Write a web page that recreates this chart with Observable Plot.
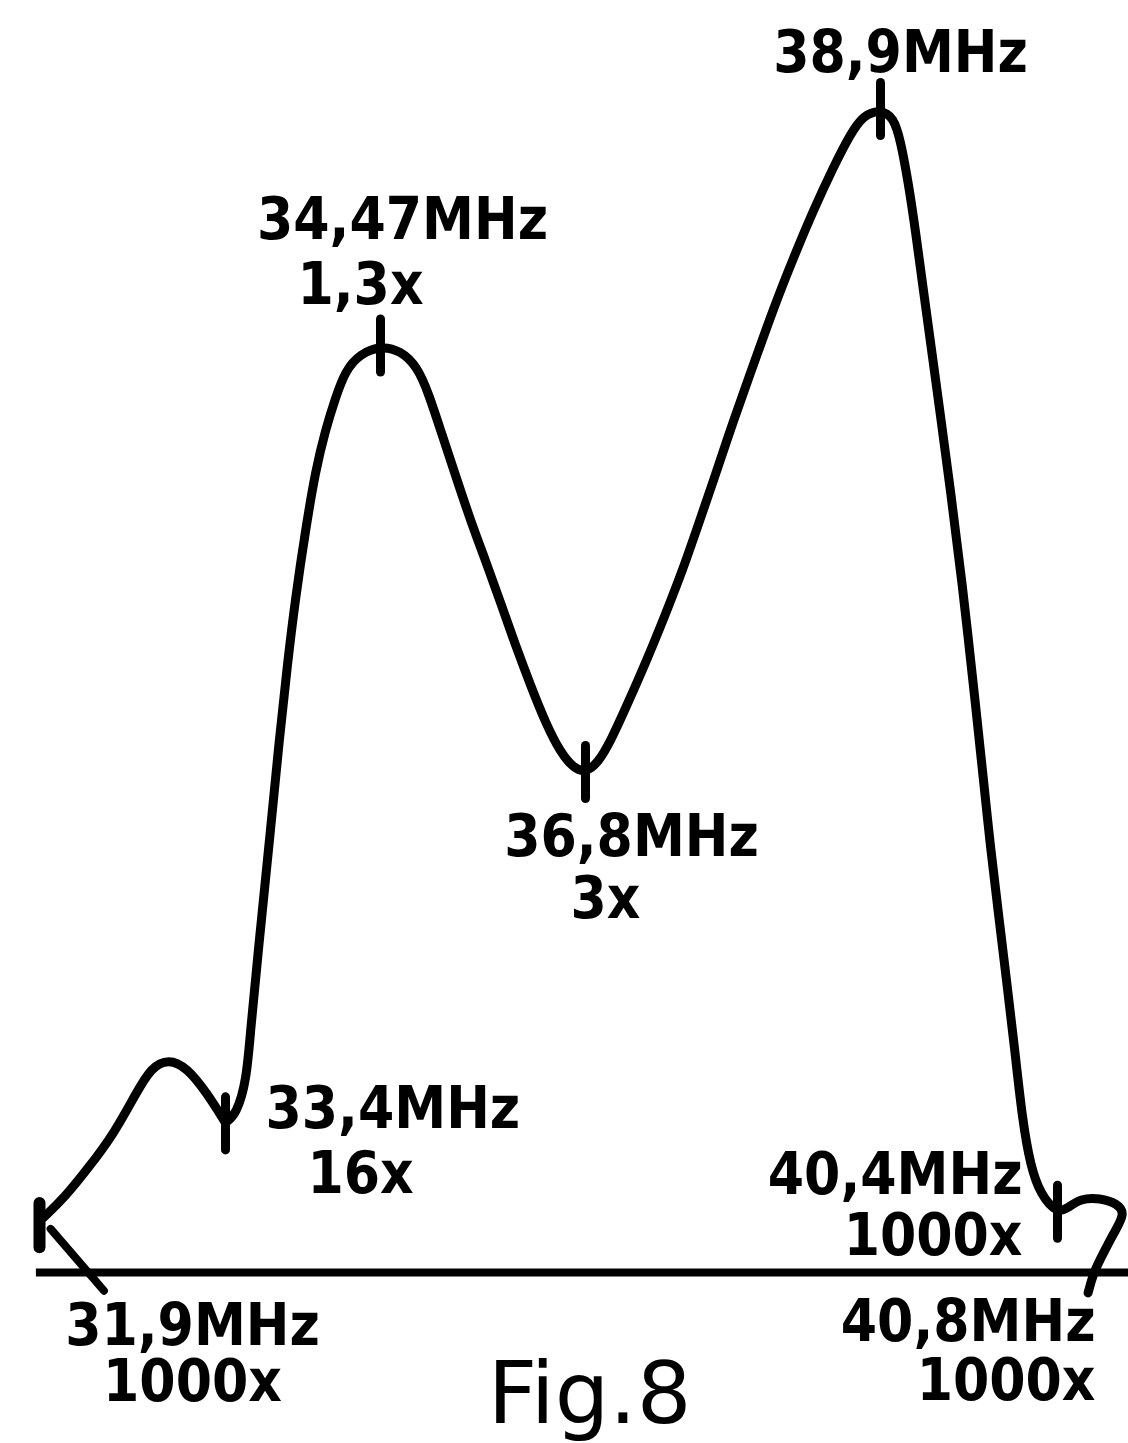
<!DOCTYPE html>
<html><head><meta charset="utf-8">
<script src="https://cdn.jsdelivr.net/npm/d3@7"></script>
<script src="https://cdn.jsdelivr.net/npm/@observablehq/plot@0.6"></script>
<style>html,body{margin:0;padding:0;background:#fff} svg{display:block}</style>
</head><body><div id="chart"></div>
<script>
// ---- data (frequency in MHz, relative amplitude) ----
const curveFreq = [31.93, 32.10, 32.30, 32.50, 32.68, 32.80, 32.94, 33.09, 33.25, 33.40,
  33.476, 33.545, 33.573, 33.621, 33.711, 33.766, 33.828, 33.883, 33.952, 34.021, 34.090, 34.159, 34.228, 34.332, 34.47,
  34.697, 34.891, 35.016, 35.152, 35.322, 35.493, 35.663, 35.834, 36.004, 36.175, 36.345, 36.516, 36.664, 36.80,
  36.885, 36.978, 37.099, 37.241, 37.384, 37.491, 37.597, 37.711, 37.854, 37.996, 38.138, 38.281, 38.423, 38.565, 38.686, 38.779, 38.90,
  39.010, 39.070, 39.137, 39.197, 39.264, 39.341, 39.417, 39.493, 39.586, 39.714, 39.773, 39.832, 39.900, 39.968, 40.036, 40.103, 40.171, 40.256, 40.40,
  40.46, 40.535, 40.65, 40.75, 40.80];
const curveAmp = [-0.003, 0.015, 0.043, 0.073, 0.110, 0.133, 0.141, 0.133, 0.110, 0.083,
  0.091, 0.121, 0.167, 0.232, 0.348, 0.423, 0.499, 0.558, 0.619, 0.673, 0.710, 0.739, 0.764, 0.779, 0.786,
  0.782, 0.767, 0.743, 0.710, 0.669, 0.628, 0.592, 0.554, 0.515, 0.479, 0.445, 0.418, 0.404, 0.400,
  0.408, 0.428, 0.462, 0.503, 0.548, 0.583, 0.622, 0.664, 0.719, 0.769, 0.820, 0.866, 0.909, 0.948, 0.978, 0.995, 1.000,
  0.993, 0.972, 0.933, 0.890, 0.836, 0.776, 0.716, 0.655, 0.578, 0.453, 0.393, 0.332, 0.272, 0.212, 0.151, 0.085, 0.044, 0.018, 0.001,
  0.006, 0.0145, 0.015, 0.010, 0.001];
const hookFreq = [40.73, 40.67, 40.61, 40.58];
const hookAmp  = [-0.017, -0.035, -0.053, -0.071];
const leaderFreq = [31.99, 32.42];
const leaderAmp  = [-0.013, -0.069];
const markerFreq = [31.9, 33.4, 34.47, 36.8, 38.9, 40.4, 40.8];
const markerAmp  = [-0.010, 0.082, 0.786, 0.400, 1.000, 0.002, 0.001];
const markerTick = ["bar", "tick", "tick", "tick", "tick", "tick", "none"];
const markerFreqLabel   = ["31,9MHz", "33,4MHz", "34,47MHz", "36,8MHz", "38,9MHz", "40,4MHz", "40,8MHz"];
const markerFactorLabel = ["1000x", "16x", "1,3x", "3x", "", "1000x", "1000x"];
const baselineAmp = -0.0525;
const baselineFrom = 31.875, baselineTo = 40.82;
const figureLabel = "Fig.8";

// ---- label placement (pixel offsets from each marker point) ----
// stacked: both lines in one text element [dx, dy(last baseline), anchor, lineHeight]
// separate: freq line and factor line, each [dx, dy(baseline), anchor]
const labelLayout = [
  {stacked: [153, 175, "middle", 0.95]},
  {freq: [40, 4, "start"], factor: [135, 69, "middle"]},
  {freq: [22, -107, "middle"], factor: [-20, -42, "middle"]},
  {freq: [46, 84, "middle"], factor: [20, 146, "middle"]},
  {freq: [20, -37, "middle"]},
  {stacked: [-35, 43, "end", 1.05]},
  {stacked: [-30, 187, "end", 1.03]}
];

const allPts = curveFreq.map((f, i) => ({f, a: curveAmp[i]}))
  .concat(hookFreq.map((f, i) => ({f, a: hookAmp[i]})));
// the drawn response has a sharp notch at 33.4 MHz: smooth each side separately
const notch = curveFreq.indexOf(33.40);
const curveLeft = allPts.slice(0, notch + 1);
const curveRight = allPts.slice(notch);
const leader = leaderFreq.map((f, i) => ({f, a: leaderAmp[i]}));
const markers = markerFreq.map((f, i) => ({f, a: markerAmp[i], tick: markerTick[i],
  fl: markerFreqLabel[i], kl: markerFactorLabel[i]}));

const font = "'DejaVu Sans Condensed', 'Liberation Sans Narrow', 'DejaVu Sans', sans-serif";
const textStyle = {x: "f", y: "a", lineAnchor: "bottom", fontSize: 58, fontWeight: "bold", fontFamily: font, fill: "black"};
const labelMarks = markers.flatMap((m, i) => {
  const L = labelLayout[i], out = [];
  if (L.stacked) {
    out.push(Plot.text([m], {...textStyle, text: d => d.fl + "\n" + d.kl,
      dx: L.stacked[0], dy: L.stacked[1], textAnchor: L.stacked[2], lineHeight: L.stacked[3]}));
  } else {
    out.push(Plot.text([m], {...textStyle, text: "fl", dx: L.freq[0], dy: L.freq[1], textAnchor: L.freq[2]}));
    if (L.factor) out.push(Plot.text([m], {...textStyle, text: "kl", dx: L.factor[0], dy: L.factor[1], textAnchor: L.factor[2]}));
  }
  return out;
});

const lineStyle = {x: "f", y: "a", curve: "basis", stroke: "black", strokeWidth: 9, strokeLinejoin: "round", strokeLinecap: "round"};
const chart = Plot.plot({
  width: 1128, height: 1443, margin: 0,
  style: {background: "white", fontFamily: font},
  x: {type: "linear", domain: markerFreq, range: [39, 225, 380, 585, 880, 1057, 1125], axis: null},
  y: {domain: [-0.20724, 1.09864], range: [1443, 0], axis: null},
  marks: [
    Plot.ruleY([baselineAmp], {x1: baselineFrom, x2: baselineTo, stroke: "black", strokeWidth: 8}),
    Plot.line(curveLeft, lineStyle),
    Plot.line(curveRight, lineStyle),
    Plot.line(leader, {x: "f", y: "a", stroke: "black", strokeWidth: 8, strokeLinecap: "round"}),
    Plot.ruleX(markers.filter(m => m.tick === "tick"), {x: "f", y1: d => d.a - 0.024, y2: d => d.a + 0.024, stroke: "black", strokeWidth: 9, strokeLinecap: "round"}),
    Plot.ruleX(markers.filter(m => m.tick === "bar"), {x: "f", y1: d => d.a - 0.020, y2: d => d.a + 0.020, stroke: "black", strokeWidth: 12, strokeLinecap: "round"}),
    ...labelMarks,
    Plot.text([figureLabel], {frameAnchor: "bottom", lineAnchor: "bottom", dx: 25, dy: -21, fontSize: 86,
      fontFamily: "'DejaVu Sans', sans-serif", fill: "black"})
  ]
});
document.getElementById("chart").append(chart);
</script>
</body></html>
